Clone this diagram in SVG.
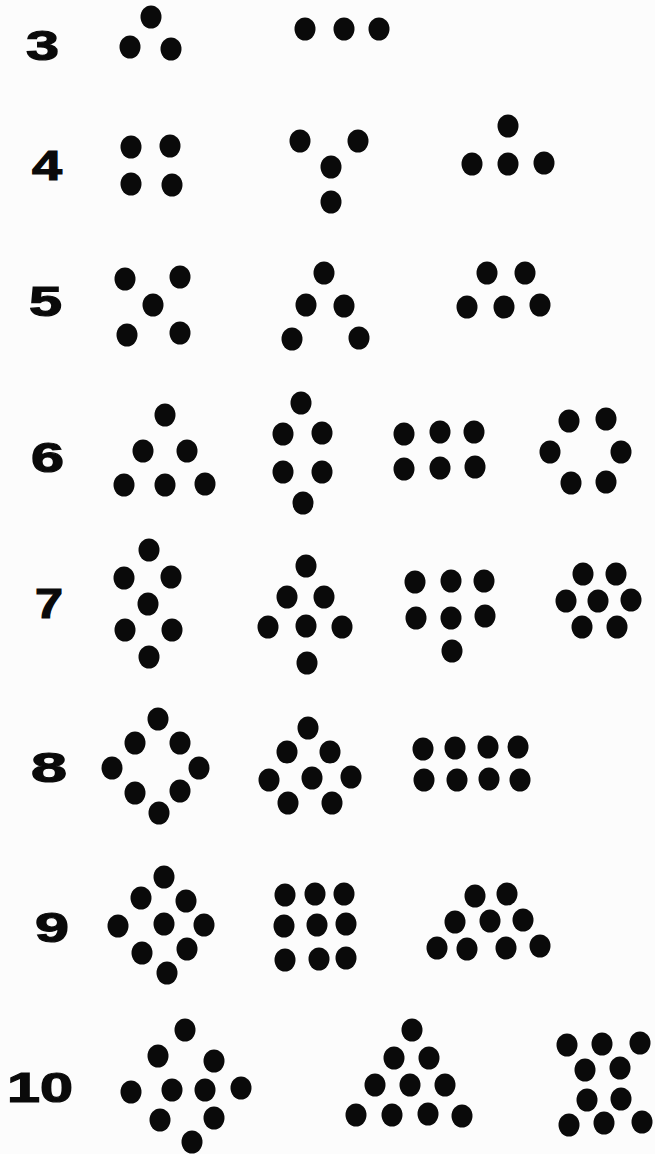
<svg xmlns="http://www.w3.org/2000/svg" xmlns:xlink="http://www.w3.org/1999/xlink" width="655" height="1154" viewBox="0 0 655 1154">
<style>
.lbl{font-family:"Liberation Sans",Arial,sans-serif;font-weight:bold;font-size:42px;fill:#0a0a0a;stroke:#0a0a0a;stroke-width:1.2}
.dot{fill:#0a0a0a}
</style>
<defs>
<ellipse id="d" class="dot" cx="0" cy="0" rx="10.5" ry="11.5"/>
</defs>
<rect width="655" height="1154" fill="#fcfcfc"/>
<g id="labels">
<text class="lbl" x="26" y="60" textLength="33" lengthAdjust="spacingAndGlyphs">3</text>
<text class="lbl" x="32" y="180" textLength="30" lengthAdjust="spacingAndGlyphs">4</text>
<text class="lbl" x="29" y="316" textLength="33" lengthAdjust="spacingAndGlyphs">5</text>
<text class="lbl" x="31" y="472" textLength="33" lengthAdjust="spacingAndGlyphs">6</text>
<text class="lbl" x="35" y="618" textLength="28" lengthAdjust="spacingAndGlyphs">7</text>
<text class="lbl" x="31" y="782" textLength="36" lengthAdjust="spacingAndGlyphs">8</text>
<text class="lbl" x="35" y="942" textLength="34" lengthAdjust="spacingAndGlyphs">9</text>
<text class="lbl" x="7" y="1102" textLength="66" lengthAdjust="spacingAndGlyphs">10</text>
</g>
<g id="r3a"><use xlink:href="#d" x="151" y="17"/><use xlink:href="#d" x="130" y="47"/><use xlink:href="#d" x="171" y="49"/></g>
<g id="r3b"><use xlink:href="#d" x="305" y="29"/><use xlink:href="#d" x="344" y="29"/><use xlink:href="#d" x="379" y="29"/></g>
<g id="r4a"><use xlink:href="#d" x="131" y="147"/><use xlink:href="#d" x="170" y="146"/><use xlink:href="#d" x="131" y="184"/><use xlink:href="#d" x="172" y="185"/></g>
<g id="r4b"><use xlink:href="#d" x="300" y="141"/><use xlink:href="#d" x="358" y="141"/><use xlink:href="#d" x="331" y="167"/><use xlink:href="#d" x="331" y="202"/></g>
<g id="r4c"><use xlink:href="#d" x="508" y="126"/><use xlink:href="#d" x="472" y="164"/><use xlink:href="#d" x="508" y="164"/><use xlink:href="#d" x="544" y="163"/></g>
<g id="r5a"><use xlink:href="#d" x="125" y="279"/><use xlink:href="#d" x="180" y="277"/><use xlink:href="#d" x="153" y="305"/><use xlink:href="#d" x="127" y="335"/><use xlink:href="#d" x="180" y="333"/></g>
<g id="r5b"><use xlink:href="#d" x="324" y="273"/><use xlink:href="#d" x="306" y="305"/><use xlink:href="#d" x="344" y="306"/><use xlink:href="#d" x="292" y="339"/><use xlink:href="#d" x="359" y="338"/></g>
<g id="r5c"><use xlink:href="#d" x="487" y="273"/><use xlink:href="#d" x="525" y="273"/><use xlink:href="#d" x="467" y="307"/><use xlink:href="#d" x="504" y="307"/><use xlink:href="#d" x="540" y="305"/></g>
<g id="r6a"><use xlink:href="#d" x="165" y="415"/><use xlink:href="#d" x="143" y="451"/><use xlink:href="#d" x="187" y="451"/><use xlink:href="#d" x="124" y="485"/><use xlink:href="#d" x="165" y="485"/><use xlink:href="#d" x="205" y="484"/></g>
<g id="r6b"><use xlink:href="#d" x="301" y="403"/><use xlink:href="#d" x="283" y="434"/><use xlink:href="#d" x="322" y="433"/><use xlink:href="#d" x="283" y="472"/><use xlink:href="#d" x="322" y="472"/><use xlink:href="#d" x="303" y="503"/></g>
<g id="r6c"><use xlink:href="#d" x="404" y="434"/><use xlink:href="#d" x="440" y="432"/><use xlink:href="#d" x="474" y="432"/><use xlink:href="#d" x="404" y="469"/><use xlink:href="#d" x="440" y="468"/><use xlink:href="#d" x="475" y="467"/></g>
<g id="r6d"><use xlink:href="#d" x="569" y="421"/><use xlink:href="#d" x="606" y="419"/><use xlink:href="#d" x="550" y="452"/><use xlink:href="#d" x="621" y="452"/><use xlink:href="#d" x="571" y="483"/><use xlink:href="#d" x="606" y="482"/></g>
<g id="r7a"><use xlink:href="#d" x="149" y="550"/><use xlink:href="#d" x="124" y="578"/><use xlink:href="#d" x="171" y="577"/><use xlink:href="#d" x="148" y="604"/><use xlink:href="#d" x="125" y="630"/><use xlink:href="#d" x="172" y="630"/><use xlink:href="#d" x="149" y="657"/></g>
<g id="r7b"><use xlink:href="#d" x="306" y="566"/><use xlink:href="#d" x="287" y="597"/><use xlink:href="#d" x="324" y="597"/><use xlink:href="#d" x="268" y="627"/><use xlink:href="#d" x="306" y="626"/><use xlink:href="#d" x="342" y="627"/><use xlink:href="#d" x="307" y="663"/></g>
<g id="r7c"><use xlink:href="#d" x="415" y="582"/><use xlink:href="#d" x="451" y="581"/><use xlink:href="#d" x="484" y="581"/><use xlink:href="#d" x="416" y="618"/><use xlink:href="#d" x="451" y="618"/><use xlink:href="#d" x="485" y="616"/><use xlink:href="#d" x="452" y="651"/></g>
<g id="r7d"><use xlink:href="#d" x="583" y="574"/><use xlink:href="#d" x="616" y="574"/><use xlink:href="#d" x="566" y="601"/><use xlink:href="#d" x="598" y="601"/><use xlink:href="#d" x="631" y="600"/><use xlink:href="#d" x="582" y="627"/><use xlink:href="#d" x="617" y="627"/></g>
<g id="r8a"><use xlink:href="#d" x="158" y="719"/><use xlink:href="#d" x="135" y="743"/><use xlink:href="#d" x="180" y="743"/><use xlink:href="#d" x="112" y="768"/><use xlink:href="#d" x="199" y="768"/><use xlink:href="#d" x="135" y="793"/><use xlink:href="#d" x="180" y="791"/><use xlink:href="#d" x="159" y="813"/></g>
<g id="r8b"><use xlink:href="#d" x="308" y="728"/><use xlink:href="#d" x="287" y="752"/><use xlink:href="#d" x="330" y="752"/><use xlink:href="#d" x="269" y="780"/><use xlink:href="#d" x="312" y="778"/><use xlink:href="#d" x="351" y="777"/><use xlink:href="#d" x="288" y="803"/><use xlink:href="#d" x="332" y="803"/></g>
<g id="r8c"><use xlink:href="#d" x="423" y="749"/><use xlink:href="#d" x="455" y="748"/><use xlink:href="#d" x="488" y="747"/><use xlink:href="#d" x="518" y="747"/><use xlink:href="#d" x="424" y="780"/><use xlink:href="#d" x="457" y="780"/><use xlink:href="#d" x="489" y="779"/><use xlink:href="#d" x="520" y="780"/></g>
<g id="r9a"><use xlink:href="#d" x="164" y="877"/><use xlink:href="#d" x="141" y="898"/><use xlink:href="#d" x="186" y="901"/><use xlink:href="#d" x="118" y="926"/><use xlink:href="#d" x="164" y="924"/><use xlink:href="#d" x="204" y="925"/><use xlink:href="#d" x="142" y="953"/><use xlink:href="#d" x="187" y="949"/><use xlink:href="#d" x="167" y="973"/></g>
<g id="r9b"><use xlink:href="#d" x="285" y="895"/><use xlink:href="#d" x="315" y="894"/><use xlink:href="#d" x="344" y="894"/><use xlink:href="#d" x="284" y="926"/><use xlink:href="#d" x="317" y="925"/><use xlink:href="#d" x="346" y="924"/><use xlink:href="#d" x="285" y="960"/><use xlink:href="#d" x="319" y="959"/><use xlink:href="#d" x="346" y="958"/></g>
<g id="r9c"><use xlink:href="#d" x="475" y="896"/><use xlink:href="#d" x="507" y="894"/><use xlink:href="#d" x="455" y="922"/><use xlink:href="#d" x="490" y="921"/><use xlink:href="#d" x="523" y="920"/><use xlink:href="#d" x="437" y="948"/><use xlink:href="#d" x="467" y="949"/><use xlink:href="#d" x="506" y="948"/><use xlink:href="#d" x="540" y="946"/></g>
<g id="r10a"><use xlink:href="#d" x="185" y="1030"/><use xlink:href="#d" x="158" y="1056"/><use xlink:href="#d" x="214" y="1061"/><use xlink:href="#d" x="131" y="1092"/><use xlink:href="#d" x="172" y="1090"/><use xlink:href="#d" x="205" y="1090"/><use xlink:href="#d" x="241" y="1088"/><use xlink:href="#d" x="160" y="1120"/><use xlink:href="#d" x="214" y="1118"/><use xlink:href="#d" x="192" y="1142"/></g>
<g id="r10b"><use xlink:href="#d" x="412" y="1030"/><use xlink:href="#d" x="394" y="1058"/><use xlink:href="#d" x="429" y="1058"/><use xlink:href="#d" x="375" y="1085"/><use xlink:href="#d" x="410" y="1085"/><use xlink:href="#d" x="445" y="1085"/><use xlink:href="#d" x="356" y="1115"/><use xlink:href="#d" x="392" y="1115"/><use xlink:href="#d" x="428" y="1114"/><use xlink:href="#d" x="462" y="1116"/></g>
<g id="r10c"><use xlink:href="#d" x="567" y="1045"/><use xlink:href="#d" x="602" y="1044"/><use xlink:href="#d" x="640" y="1043"/><use xlink:href="#d" x="585" y="1070"/><use xlink:href="#d" x="620" y="1068"/><use xlink:href="#d" x="587" y="1100"/><use xlink:href="#d" x="621" y="1099"/><use xlink:href="#d" x="569" y="1125"/><use xlink:href="#d" x="604" y="1123"/><use xlink:href="#d" x="642" y="1122"/></g>
</svg>
